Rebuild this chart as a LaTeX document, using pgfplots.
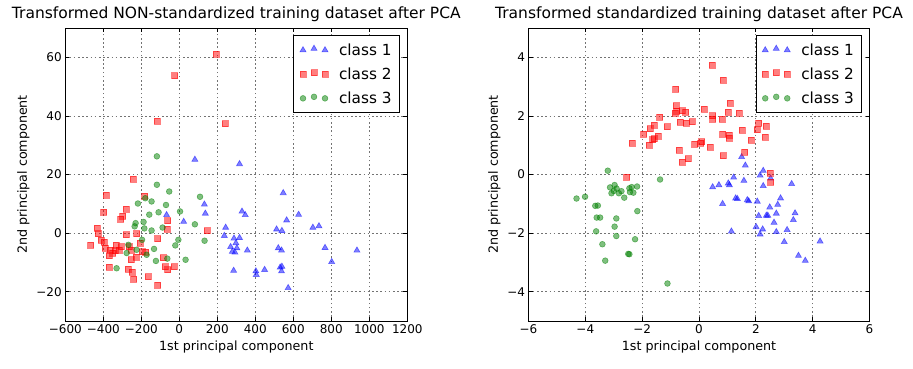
\documentclass[border=0pt]{standalone}
\usepackage{pgfplots}
\pgfplotsset{compat=1.18}
\usepackage{fontspec}
\setmainfont{DejaVu Sans}
\pgfplotsset{
  pcastyle/.style={
    scale only axis,
    anchor=south west,
    axis line style={black, line width=0.9pt},
    major tick style={black, line width=0.8pt},
    major tick length=4pt,
    grid=major,
    major grid style={black!55, dash pattern=on 1.6pt off 2.6pt, line width=0.7pt},
    tick label style={font=\fontsize{12}{14}\selectfont},
    label style={font=\fontsize{12.7}{14}\selectfont},
    title style={font=\fontsize{15.5}{17}\selectfont, yshift=-3pt},
    legend style={at={(0.979,0.976)}, anchor=north east, draw=black, line width=1pt,
      font=\fontsize{15.3}{17}\selectfont, row sep=7pt, inner xsep=6pt, inner ysep=6pt,
      column sep=9pt, cells={anchor=west}},
    legend image code/.code={\draw[#1,only marks] plot coordinates {(0pt,0pt)(11pt,1.5pt)(22pt,0pt)};},
    /pgf/number format/assume math mode=true,
  },
  c1/.style={only marks, mark=triangle*, color=blue, opacity=0.5, mark size=3.5pt, mark options={line width=0.6pt}},
  c2/.style={only marks, mark=square*, color=red, opacity=0.5, mark size=3pt, mark options={line width=0.6pt}},
  c3/.style={only marks, mark=*, color=green!50!black, opacity=0.5, mark size=2.9pt, mark options={line width=0.6pt}},
}
\begin{document}
\begin{tikzpicture}
\useasboundingbox (0pt,0pt) rectangle (913pt,368pt);
\begin{axis}[pcastyle,
  at={(65.3pt,47pt)}, width=342pt, height=293pt,
  xmin=-600, xmax=1200, ymin=-30, ymax=70,
  xtick={-600,-400,...,1200},
  xticklabels={−600,−400,−200,0,200,400,600,800,1000,1200},
  ytick={-20,0,20,40,60},
  yticklabels={−20,0,20,40,60},
  title={Transformed NON-standardized training dataset after PCA},
  xlabel={1st principal component},
  ylabel={2nd principal component},
]
\addplot[c1] table {
x y
82 25.1
317 23.6
547 13.7
132 9.8
137 6.7
-67 6.2
330 7.4
347 6.2
628 6.3
565 4.4
23 3.9
244 1.9
237 -0.9
703 1.9
735 2.4
512 1.3
540 0.8
288 -1.8
317 -1.6
298 -3.4
270 -4.7
303 -5.1
279 -6.3
293 -6.6
358 -5.9
521 -5.1
538 -5.9
767 -5.0
935 -5.9
802 -9.8
286 -12.8
403 -13.0
405 -14.2
449 -12.5
531 -11.7
540 -11.4
538 -13.0
573 -18.7
};
\addlegendentry{class 1}
\addplot[c2] table {
x y
195 61.0
-25 53.7
-118 38.3
242 37.4
-244 18.3
-386 12.9
-182 12.5
-398 7.1
-281 8.1
-309 4.8
-298 5.7
-61 4.2
-431 1.7
-63 1.4
146 0.8
-426 -0.2
-281 -0.5
-225 -0.2
-410 -2.4
-396 -3.0
-114 -1.9
-467 -4.0
-389 -5.2
-365 -5.7
-333 -4.2
-337 -6.0
-316 -5.7
-351 -6.8
-307 -4.6
-368 -7.7
-254 -5.9
-205 -3.4
-196 -6.3
-177 -6.6
-228 -8.3
-254 -9.1
-368 -11.6
-268 -12.3
-249 -13.4
-240 -15.7
-165 -14.9
-114 -17.7
-84 -8.4
-75 -11.5
-61 -12.5
-28 -11.5
-263 -4.6
};
\addlegendentry{class 2}
\addplot[c3] table {
x y
-118 26.2
-118 16.5
-53 14.2
109 12.4
-218 10.1
-179 11.9
-146 10.8
-70 9.6
-109 7.1
-158 6.3
4 7.4
-230 3.4
-235 2.3
-188 3.8
-184 1.6
-146 0.9
-88 1.9
82 3.0
133 -2.6
-5 -2.3
-21 -4.2
-196 -2.3
-268 -4.0
-225 -5.7
-277 -6.8
-172 -7.4
-133 -5.4
-63 -8.7
-123 -9.5
33 -9.1
-330 -12.0
};
\addlegendentry{class 3}
\end{axis}
\begin{axis}[pcastyle,
  at={(528.5pt,47pt)}, width=341pt, height=293pt,
  xmin=-6, xmax=6, ymin=-5, ymax=5,
  xtick={-6,-4,...,6},
  xticklabels={−6,−4,−2,0,2,4,6},
  ytick={-4,-2,0,2,4},
  yticklabels={−4,−2,0,2,4},
  title={Transformed standardized training dataset after PCA},
  xlabel={1st principal component},
  ylabel={2nd principal component},
]
\addplot[c1] table {
x y
1.50 0.60
1.63 0.31
2.26 0.13
2.15 -0.03
2.52 -0.13
1.22 -0.10
1.58 -0.21
0.48 -0.43
0.70 -0.36
1.03 -0.30
1.07 -0.36
2.26 -0.39
3.26 -0.32
1.29 -0.81
1.35 -0.83
1.70 -0.87
1.75 -0.91
0.83 -1.00
2.05 -0.92
2.49 -1.12
2.77 -1.03
2.87 -0.81
2.10 -1.41
2.37 -1.40
2.42 -1.40
2.72 -1.33
3.38 -1.32
3.32 -1.55
2.64 -1.64
2.01 -1.79
2.24 -1.87
2.15 -2.04
2.72 -1.96
3.10 -1.89
1.14 -1.94
3.00 -2.30
4.26 -2.28
3.50 -2.77
3.74 -2.94
};
\addlegendentry{class 1}
\addplot[c2] table {
x y
0.47 3.74
0.84 3.21
-0.82 2.92
1.09 2.43
-0.81 2.35
-0.79 2.17
-0.59 2.18
-0.47 2.14
0.18 2.23
0.48 2.01
0.48 1.89
1.03 2.13
1.41 2.10
0.81 1.89
-1.38 1.95
-0.83 2.10
-0.66 1.78
-0.46 1.75
-0.25 1.80
-1.57 1.69
-1.71 1.56
-1.13 1.63
-1.95 1.38
-1.63 1.19
-1.57 1.22
-1.43 1.30
-2.35 1.07
-1.76 1.00
-0.15 1.03
0.06 1.06
0.09 1.12
0.39 0.93
0.83 1.38
1.07 1.25
1.06 1.34
1.52 1.52
1.83 1.17
2.05 1.53
2.10 1.75
2.37 1.66
2.32 1.28
1.61 0.76
0.86 0.64
-0.70 0.84
-0.59 0.42
-0.38 0.54
2.51 0.05
2.52 -0.27
-2.55 -0.09
};
\addlegendentry{class 2}
\addplot[c3] table {
x y
-3.21 0.13
-1.37 -0.17
-4.31 -0.82
-4.01 -0.76
-3.13 -0.44
-2.97 -0.36
-3.00 -0.56
-2.90 -0.48
-2.82 -0.64
-3.08 -0.64
-2.73 -0.57
-2.63 -0.79
-2.45 -0.47
-2.37 -0.43
-2.31 -0.62
-2.18 -0.41
-2.43 -0.60
-3.65 -1.07
-3.56 -1.06
-2.17 -1.25
-3.60 -1.47
-3.48 -1.47
-2.91 -1.50
-2.97 -1.78
-3.62 -1.94
-2.91 -2.10
-2.25 -2.21
-3.40 -2.38
-2.49 -2.71
-2.45 -2.72
-3.30 -2.94
-1.11 -3.72
};
\addlegendentry{class 3}
\end{axis}
\end{tikzpicture}
\end{document}
